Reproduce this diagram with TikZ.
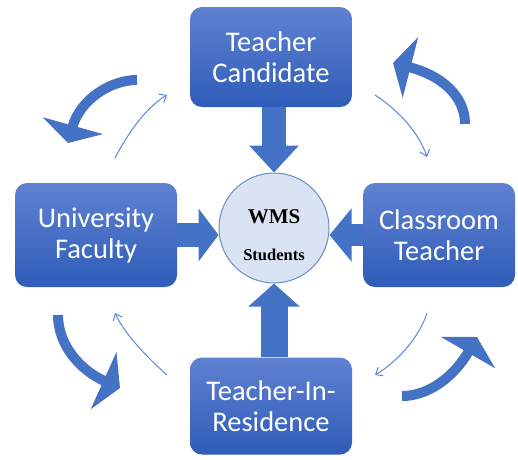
\documentclass[tikz,border=0pt]{standalone}
\usepackage{fontspec}
\newfontfamily\boxfont{Carlito}
\newfontfamily\wmsfont{Liberation Serif}
\usetikzlibrary{arrows.meta,positioning}

\definecolor{boxtop}{RGB}{96,130,210}
\definecolor{boxbot}{RGB}{46,92,184}
\definecolor{arrowblue}{RGB}{68,114,196}
\definecolor{thinblue}{RGB}{92,134,214}
\definecolor{circfill}{RGB}{218,227,243}
\definecolor{circline}{RGB}{104,142,192}

\begin{document}
\begin{tikzpicture}[x=1pt,y=-1pt,
  rolebox/.style={rectangle, rounded corners=12pt, top color=boxtop,
    bottom color=boxbot, text=white, align=center, inner sep=0pt,
    font=\boxfont\fontsize{28.5}{31}\selectfont},
  blockarrow/.style={draw=arrowblue, line width=#1},
  bigcurve/.style={arrowblue, line width=10pt,
    -{Triangle[length=18pt,width=62pt]}},
  thincurve/.style={thinblue, line width=1pt,
    -{Straight Barb[length=6pt,width=10pt]}}
]
  \useasboundingbox (0,0) rectangle (518,459);

  \node[rolebox, minimum width=162pt, minimum height=100pt] (tc) at (271,57)
    {Teacher\\Candidate};
  \node[rolebox, minimum width=162pt, minimum height=104pt] (uf) at (96,235)
    {University\\Faculty};
  \node[rolebox, minimum width=152pt, minimum height=104pt] (ct) at (439,235)
    {Classroom\\Teacher};
  \node[rolebox, minimum width=162pt, minimum height=97pt] (tir) at (271,406)
    {Teacher-In-\\Residence};

  \node[circle, draw=circline, line width=1pt, fill=circfill,
    minimum size=110pt, inner sep=0pt] (wms) at (274,228) {};
  \node[anchor=base, font=\wmsfont\bfseries\fontsize{21}{24}\selectfont]
    (wmslabel) at (274,223) {WMS};
  \node[anchor=base, font=\wmsfont\bfseries\fontsize{16.5}{19}\selectfont]
    (stulabel) at (274,260) {Students};

  % block arrows into the circle
  \draw[blockarrow=24pt, -{Triangle[length=27pt,width=48pt]}]
    (wms.north |- tc.south) -- (wms.north);
  \draw[blockarrow=27pt, -{Triangle[length=23pt,width=50pt]}]
    (wms.south |- tir.north) -- (wms.south);
  \draw[blockarrow=24pt, -{Triangle[length=20pt,width=52pt]}]
    (uf.east) -- (uf.east -| wms.west);
  \draw[blockarrow=22pt, -{Triangle[length=22pt,width=52pt]}]
    (ct.west) -- (ct.west -| wms.east);

  % big curved arrows
  \draw[bigcurve] (137,80) .. controls (110,80) and (80,100) .. (68,143);
  \draw[bigcurve] (465,124) .. controls (465,95) and (440,75) .. (393,63);
  \draw[bigcurve] (58,315) .. controls (58,345) and (80,370) .. (120,388);
  \draw[bigcurve] (402,396) .. controls (430,396) and (455,375) .. (477,337);

  % thin curved arrows
  \coordinate (tlstart) at (115,158);
  \coordinate (tlend) at (167,95);
  \coordinate (trstart) at (375,95);
  \coordinate (trend) at (427,157);
  \coordinate (blstart) at (167,375);
  \coordinate (blend) at (115,313);
  \coordinate (brstart) at (427,313);
  \coordinate (brend) at (375,375);
  \draw[thincurve] (tlstart) .. controls (127,135) and (145,108) .. (tlend);
  \draw[thincurve] (trstart) .. controls (395,108) and (418,130) .. (trend);
  \draw[thincurve] (blstart) .. controls (150,360) and (125,335) .. (blend);
  \draw[thincurve] (brstart) .. controls (420,335) and (400,360) .. (brend);
\end{tikzpicture}
\end{document}
